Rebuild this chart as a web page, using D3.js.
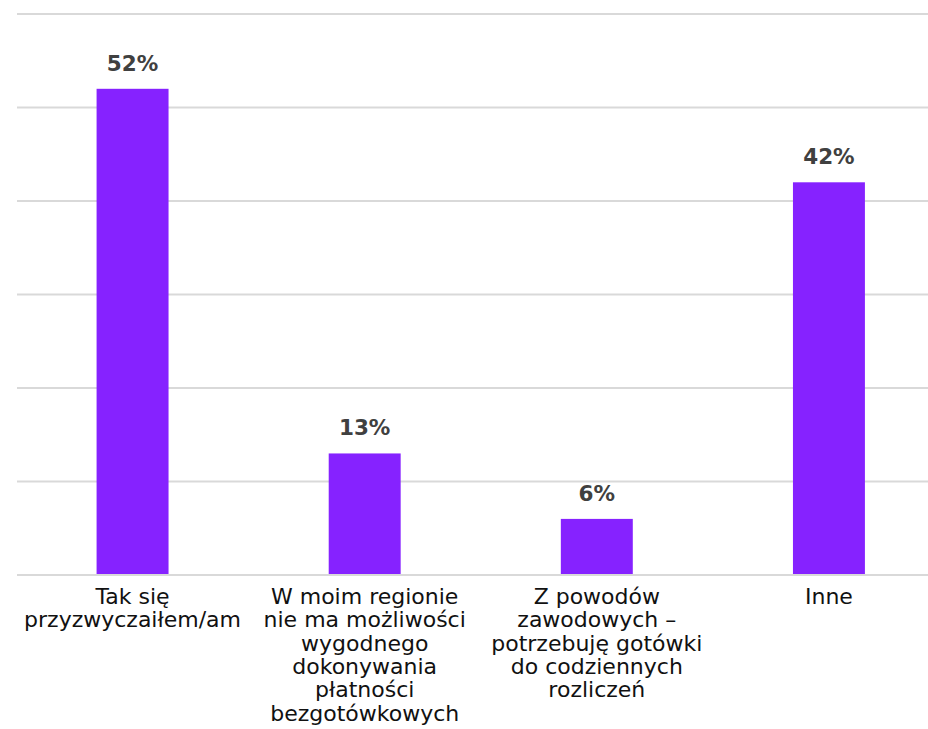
<!DOCTYPE html>
<html>
<head>
<meta charset="utf-8">
<script src="https://cdn.jsdelivr.net/npm/d3@7"></script>
<style>
  body { margin: 0; background: #fff; }
  svg { display: block; }
</style>
</head>
<body>
<svg class="chart"></svg>
<script>
var categories = [
  ["Tak się", "przyzwyczaiłem/am"],
  ["W moim regionie", "nie ma możliwości", "wygodnego", "dokonywania", "płatności", "bezgotówkowych"],
  ["Z powodów", "zawodowych –", "potrzebuję gotówki", "do codziennych", "rozliczeń"],
  ["Inne"]
]
var values = [52, 13, 6, 42]
var gridTicks = [0, 10, 20, 30, 40, 50, 60]

var svg = d3.select('.chart')
            .attr('width', 928)
            .attr('height', 729)

var xScale = d3.scaleBand()
               .domain(d3.range(values.length))
               .range([16.5, 945])
               .paddingInner(0.69)
               .paddingOuter(0.345)

var yScale = d3.scaleLinear()
               .domain([0, 60])
               .range([575, 14])

// gridlines
svg.append('g')
   .selectAll('line')
   .data(gridTicks)
   .enter()
   .append('line')
   .attr('x1', 17)
   .attr('x2', 928)
   .attr('y1', d => yScale(d))
   .attr('y2', d => yScale(d))
   .attr('stroke', '#d9d9d9')
   .attr('stroke-width', 2)

svg.selectAll('rect.bar')
   .data(values)
   .enter()
   .append('rect')
   .attr('class', 'bar')
   .attr('x', (d, i) => xScale(i))
   .attr('y', d => yScale(d))
   .attr('width', xScale.bandwidth())
   .attr('height', d => yScale(0) - yScale(d) - 1)
   .attr('fill', '#8622ff')

svg.selectAll('text.val')
   .data(values)
   .enter()
   .append('text')
   .attr('class', 'val')
   .attr('x', (d, i) => xScale(i) + xScale.bandwidth() / 2)
   .attr('y', d => yScale(d) - 18)
   .attr('text-anchor', 'middle')
   .attr('font-family', '"DejaVu Sans", sans-serif')
   .attr('font-weight', 'bold')
   .attr('font-size', '21.5px')
   .attr('fill', '#404040')
   .text(d => d + '%')

// category labels
var lab = svg.selectAll('text.cat')
             .data(categories)
             .enter()
             .append('text')
             .attr('class', 'cat')
             .attr('text-anchor', 'middle')
             .attr('font-family', '"DejaVu Sans", sans-serif')
             .attr('font-size', '22px')
             .attr('fill', '#111')
             .attr('transform', (d, i) => 'translate(' + (xScale(i) + xScale.bandwidth() / 2) + ',604)')

lab.selectAll('tspan')
   .data(d => d)
   .enter()
   .append('tspan')
   .attr('x', 0)
   .attr('y', (d, j) => j * 23.3)
   .text(d => d)
</script>
</body>
</html>
